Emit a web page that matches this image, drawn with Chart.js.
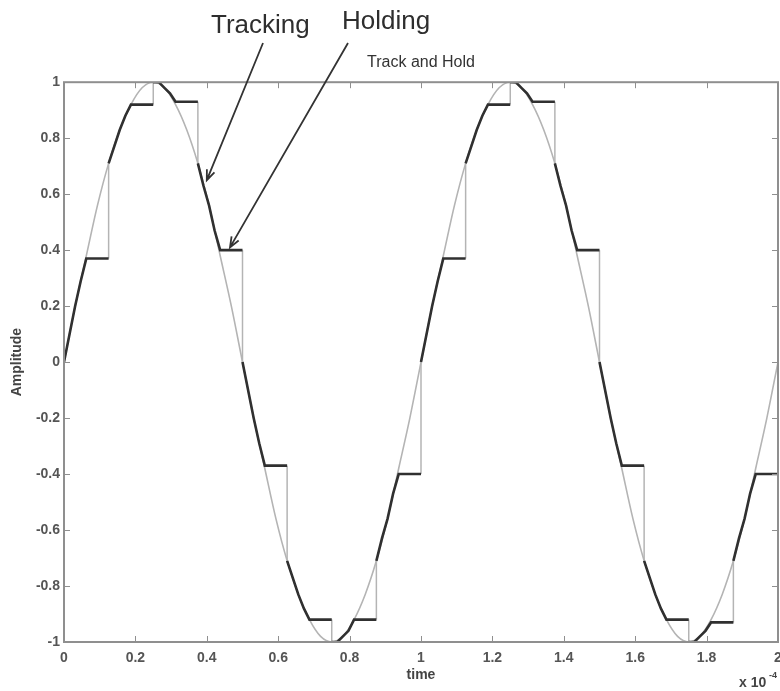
<!DOCTYPE html>
<html>
<head>
<meta charset="utf-8">
<title>Track and Hold</title>
<script src="https://cdn.jsdelivr.net/npm/chart.js@4.4.1/dist/chart.umd.min.js"></script>
<style>
  html, body { margin: 0; padding: 0; background: #fff; }
</style>
</head>
<body>
<canvas id="chart" width="780" height="691"></canvas>
<script>
// input sine, read every 1/32 of a period (time in units of 1e-4)
const sineStep = 0.03125;
const sineValues = [
  0, 0.20, 0.38, 0.56, 0.71, 0.83, 0.92, 0.98, 1.00, 0.98, 0.92, 0.83, 0.71, 0.56, 0.38, 0.20,
  0, -0.20, -0.38, -0.56, -0.71, -0.83, -0.92, -0.98, -1.00, -0.98, -0.92, -0.83, -0.71, -0.56, -0.38, -0.20,
  0, 0.20, 0.38, 0.56, 0.71, 0.83, 0.92, 0.98, 1.00, 0.98, 0.92, 0.83, 0.71, 0.56, 0.38, 0.20,
  0, -0.20, -0.38, -0.56, -0.71, -0.83, -0.92, -0.98, -1.00, -0.98, -0.92, -0.83, -0.71, -0.56, -0.38, -0.20,
  0
];

// track and hold: each sample period starts with tracking, then holds the last value
const samplePeriod = 0.125;
const trackStep = 0.015625;
const sampleTimes = [0, 0.125, 0.25, 0.375, 0.5, 0.625, 0.75, 0.875,
                     1, 1.125, 1.25, 1.375, 1.5, 1.625, 1.75, 1.875];
const trackValues = [
  [0, 0.10, 0.20, 0.29, 0.37],
  [0.71, 0.77, 0.83, 0.88, 0.92],
  [1.00, 1.00, 0.98, 0.96, 0.93],
  [0.71, 0.63, 0.56, 0.47, 0.40],
  [0, -0.10, -0.20, -0.29, -0.37],
  [-0.71, -0.77, -0.83, -0.88, -0.92],
  [-1.00, -1.00, -0.98, -0.96, -0.92],
  [-0.71, -0.63, -0.56, -0.47, -0.40],
  [0, 0.10, 0.20, 0.29, 0.37],
  [0.71, 0.77, 0.83, 0.88, 0.92],
  [1.00, 1.00, 0.98, 0.96, 0.93],
  [0.71, 0.63, 0.56, 0.47, 0.40],
  [0, -0.10, -0.20, -0.29, -0.37],
  [-0.71, -0.77, -0.83, -0.88, -0.92],
  [-1.00, -1.00, -0.98, -0.96, -0.93],
  [-0.71, -0.63, -0.56, -0.47, -0.40]
];

const sineData = sineValues.map((v, i) => ({ x: i * sineStep, y: v }));

const holdData = [];
const jumpData = [];
sampleTimes.forEach((t0, k) => {
  const vals = trackValues[k];
  vals.forEach((v, j) => holdData.push({ x: t0 + j * trackStep, y: v }));
  const held = vals[vals.length - 1];
  const tEnd = t0 + samplePeriod;
  holdData.push({ x: tEnd, y: held });
  holdData.push({ x: tEnd, y: null });
  const next = k + 1 < trackValues.length ? trackValues[k + 1][0] : sineValues[sineValues.length - 1];
  jumpData.push({ x: tEnd, y: held }, { x: tEnd, y: next }, { x: tEnd, y: null });
});

function arrow(ctx, x0, y0, x1, y1) {
  const a = Math.atan2(y1 - y0, x1 - x0);
  const len = 11, spread = 0.38;
  ctx.beginPath();
  ctx.moveTo(x0, y0);
  ctx.lineTo(x1, y1);
  ctx.moveTo(x1 - len * Math.cos(a - spread), y1 - len * Math.sin(a - spread));
  ctx.lineTo(x1, y1);
  ctx.lineTo(x1 - len * Math.cos(a + spread), y1 - len * Math.sin(a + spread));
  ctx.stroke();
}

const framePlugin = {
  id: 'frame',
  afterDraw(chart) {
    const ctx = chart.ctx;
    const area = chart.chartArea;
    const xs = chart.scales.x, ys = chart.scales.y;
    ctx.save();
    // inward ticks on all four sides
    ctx.strokeStyle = '#8f8f8f';
    ctx.lineWidth = 1;
    ctx.beginPath();
    xs.ticks.forEach(t => {
      const px = Math.round(xs.getPixelForValue(t.value)) + 0.5;
      ctx.moveTo(px, area.bottom); ctx.lineTo(px, area.bottom - 6);
      ctx.moveTo(px, area.top); ctx.lineTo(px, area.top + 6);
    });
    ys.ticks.forEach(t => {
      const py = Math.round(ys.getPixelForValue(t.value)) + 0.5;
      ctx.moveTo(area.left, py); ctx.lineTo(area.left + 6, py);
      ctx.moveTo(area.right, py); ctx.lineTo(area.right - 6, py);
    });
    ctx.stroke();
    ctx.lineWidth = 2;
    ctx.strokeRect(area.left, area.top, area.right - area.left, area.bottom - area.top);

    // annotations
    ctx.fillStyle = '#2e2e2e';
    ctx.font = '26px "Liberation Sans", Arial, sans-serif';
    ctx.textBaseline = 'alphabetic';
    ctx.fillText('Tracking', 211, 33);
    ctx.fillText('Holding', 342, 29);
    ctx.strokeStyle = '#333';
    ctx.lineWidth = 1.8;
    arrow(ctx, 263, 43, xs.getPixelForValue(0.40), ys.getPixelForValue(0.65));
    arrow(ctx, 348, 43, xs.getPixelForValue(0.465), ys.getPixelForValue(0.41));

    // exponent of the time axis
    ctx.fillStyle = '#444';
    ctx.font = 'bold 14px "Liberation Sans", Arial, sans-serif';
    ctx.fillText('x 10', 739, 687);
    ctx.font = 'bold 9px "Liberation Sans", Arial, sans-serif';
    ctx.fillText('-4', 769, 678);
    ctx.restore();
  }
};

const tickFont = { family: '"Liberation Sans", Arial, sans-serif', size: 14, weight: 'bold' };
const tickLabel = v => String(Number(v.toFixed(1)));

new Chart(document.getElementById('chart'), {
  type: 'line',
  data: {
    datasets: [
      { label: 'Track and Hold', data: holdData, borderColor: '#303030', borderWidth: 2.6,
        pointRadius: 0, tension: 0, spanGaps: false, order: 0 },
      { label: 'Jumps', data: jumpData, borderColor: '#b4b4b4', borderWidth: 1.5,
        pointRadius: 0, tension: 0, spanGaps: false, order: 1 },
      { label: 'Input', data: sineData, borderColor: '#b4b4b4', borderWidth: 1.6,
        pointRadius: 0, cubicInterpolationMode: 'monotone', order: 2 }
    ]
  },
  options: {
    responsive: false,
    animation: false,
    layout: { padding: { left: 0, right: 2, top: 0, bottom: 0 } },
    plugins: {
      legend: { display: false },
      tooltip: { enabled: false },
      title: {
        display: true, text: 'Track and Hold', color: '#333', fullSize: false,
        font: { family: '"Liberation Sans", Arial, sans-serif', size: 16, weight: 'normal' },
        padding: { top: 53, bottom: 10 }
      }
    },
    scales: {
      x: {
        type: 'linear', min: 0, max: 2,
        grid: { display: false, drawTicks: false },
        border: { display: false },
        ticks: { stepSize: 0.2, color: '#555', font: tickFont, padding: 8, maxRotation: 0, callback: tickLabel },
        title: { display: true, text: 'time', color: '#444',
          font: { family: '"Liberation Sans", Arial, sans-serif', size: 14, weight: 'bold' },
          padding: { top: 0, bottom: 7 } },
        afterFit(scale) { scale.height = 49; scale.paddingLeft = 0; scale.paddingRight = 0; }
      },
      y: {
        type: 'linear', min: -1, max: 1,
        grid: { display: false, drawTicks: false },
        border: { display: false },
        ticks: { stepSize: 0.2, color: '#555', font: tickFont, padding: 4, callback: tickLabel },
        title: { display: true, text: 'Amplitude', color: '#444',
          font: { family: '"Liberation Sans", Arial, sans-serif', size: 14, weight: 'bold' },
          padding: { top: 9, bottom: 0 } },
        afterFit(scale) { scale.width = 64; }
      }
    }
  },
  plugins: [framePlugin]
});
</script>
</body>
</html>
